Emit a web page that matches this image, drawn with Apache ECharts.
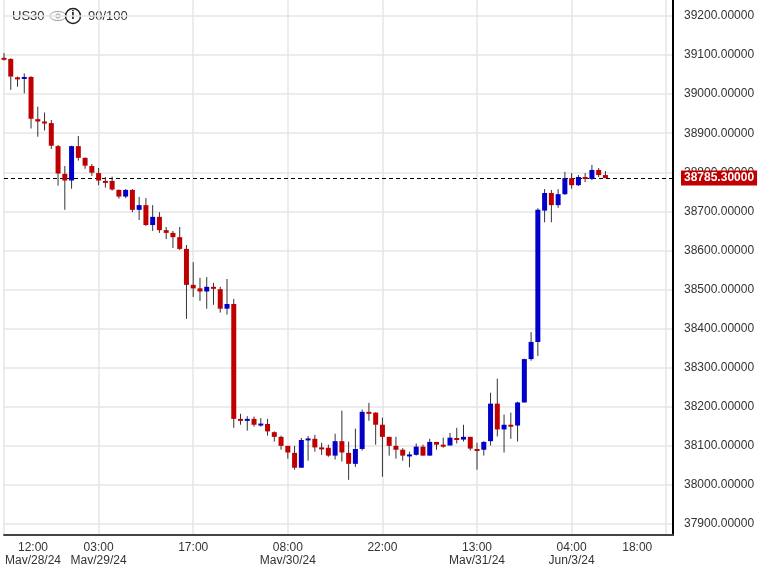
<!DOCTYPE html>
<html>
<head>
<meta charset="utf-8">
<title>US30</title>
<script src="https://cdn.jsdelivr.net/npm/echarts@6/dist/echarts.min.js"></script>
<style>
html, body { margin: 0; padding: 0; background: #fff; }
#chart { width: 764px; height: 564px; }
</style>
</head>
<body>
<div id="chart"></div>
<script>
// hourly candles, [open, close, low, high]
var opens  = [39093,39090,39043,39041,39044,38936,38930,38926,38867,38796,
              38779,38867,38837,38816,38798,38778,38778,38755,38738,38755,
              38704,38716,38665,38686,38652,38645,38634,38604,38512,38503,
              38495,38507,38501,38451,38463,38169,38164,38169,38154,38156,
              38135,38123,38100,38082,38044,38117,38118,38096,38095,38075,
              38112,38082,38054,38092,38187,38185,38154,38123,38100,38090,
              38076,38077,38098,38075,38110,38103,38101,38120,38116,38123,
              38092,38090,38112,38208,38142,38154,38152,38211,38322,38366,
              38702,38747,38716,38744,38785,38767,38788,38783,38806,38793];
var closes = [39091,39045,39041,39044,38937,38930,38928,38868,38797,38779,
              38867,38837,38817,38799,38779,38778,38756,38738,38755,38704,
              38716,38665,38686,38652,38645,38634,38604,38512,38503,38495,
              38507,38503,38451,38463,38169,38164,38169,38154,38157,38137,
              38123,38100,38083,38044,38115,38119,38096,38094,38075,38112,
              38083,38054,38092,38187,38185,38154,38123,38100,38090,38075,
              38078,38098,38075,38110,38103,38101,38121,38116,38123,38093,
              38091,38110,38208,38142,38154,38152,38211,38322,38366,38704,
              38747,38716,38744,38785,38767,38788,38783,38806,38793,38785.3];
var lows   = [39086,39011,39019,39002,38912,38891,38907,38860,38766,38704,
              38758,38830,38809,38791,38767,38761,38753,38733,38734,38698,
              38678,38663,38650,38645,38629,38606,38601,38425,38481,38471,
              38451,38461,38441,38436,38146,38154,38139,38149,38149,38126,
              38111,38090,38067,38039,38044,38062,38085,38077,38072,38065,
              38060,38013,38046,38088,38164,38103,38021,38075,38067,38062,
              38045,38075,38075,38075,38090,38095,38101,38106,38111,38088,
              38039,38075,38101,38124,38083,38118,38111,38211,38318,38330,
              38672,38672,38709,38742,38758,38765,38775,38780,38788,38785];
var highs  = [39105,39092,39045,39053,39046,38968,38953,38934,38870,38816,
              38868,38893,38838,38821,38811,38788,38789,38756,38757,38757,
              38737,38734,38716,38698,38660,38650,38660,38614,38570,38530,
              38532,38517,38507,38527,38476,38182,38176,38175,38171,38169,
              38137,38126,38100,38100,38120,38125,38128,38108,38103,38131,
              38190,38111,38144,38193,38210,38186,38172,38123,38123,38094,
              38085,38106,38103,38118,38110,38121,38133,38146,38154,38123,
              38108,38112,38236,38272,38180,38185,38213,38323,38391,38708,
              38757,38755,38757,38801,38798,38793,38798,38819,38811,38803];

var slotCount = 100;
var tickIdx  = [0, 14, 28, 42, 56, 70, 84, 98];
var tickText = ['12:00\nMay/28/24', '03:00\nMay/29/24', '17:00', '08:00\nMay/30/24',
                '22:00', '13:00\nMay/31/24', '04:00\nJun/3/24', '18:00'];
var lastPrice = 38785.3;
var symbolName = 'US30';
var scoreText = '90/100';

var cats = [];
for (var i = 0; i < slotCount; ++i) cats.push(String(i));

var candles = [];
for (var i = 0; i < opens.length; ++i)
	candles.push([i, opens[i], closes[i], lows[i], highs[i]]);

function renderCandle(params, api)
{
	var x = api.coord([api.value(0), 0])[0];
	var o = api.coord([0, api.value(1)])[1];
	var c = api.coord([0, api.value(2)])[1];
	var lo = api.coord([0, api.value(3)])[1];
	var hi = api.coord([0, api.value(4)])[1];
	var up = api.value(2) > api.value(1);
	var top = Math.min(o, c), h = Math.max(Math.abs(o - c), 2);
	return {
		type: 'group',
		children: [
			{ type: 'line', shape: { x1: x, y1: hi, x2: x, y2: lo },
			  style: { stroke: '#333', lineWidth: 1 } },
			{ type: 'rect', shape: { x: x - 2.5, y: top, width: 5, height: h },
			  style: { fill: up ? '#0000c8' : '#c00000' } }
		]
	};
}

var chart = echarts.init(document.getElementById('chart'));

var option = {
	animation: false,
	backgroundColor: '#fff',
	textStyle: { fontFamily: 'Liberation Sans, Arial, sans-serif' },
	grid: [
		{ left: 4, right: 91, top: 16, bottom: 40, outerBoundsMode: 'none', containLabel: false },
		{ left: 4, right: 91, top: 0, bottom: 29, outerBoundsMode: 'none', containLabel: false }
	],
	xAxis: [
		{ gridIndex: 0, type: 'category', data: cats, boundaryGap: false, show: false },
		{
			gridIndex: 1, type: 'category', data: cats, boundaryGap: false,
			axisLine: { lineStyle: { color: '#444', width: 2 } },
			axisTick: { show: false },
			axisLabel: {
				interval: 0, color: '#333', fontSize: 12, margin: 6, lineHeight: 13,
				hideOverlap: false,
				formatter: function (v, idx) {
					var k = tickIdx.indexOf(idx);
					if (k < 0) return '';
					if (idx === 98) return '{r|' + tickText[k] + '}';
					if (idx === 0) return '{l|' + tickText[k].split('\n').join('}\n{l|') + '}';
					return tickText[k];
				},
				rich: {
					r: { padding: [0, 58, 0, 0], fontSize: 12, color: '#333' },
					l: { padding: [0, 0, 0, 58], fontSize: 12, color: '#333' }
				}
			},
			splitLine: {
				show: true,
				interval: function (idx) { return tickIdx.indexOf(idx) >= 0; },
				lineStyle: { color: '#e6e6e6', width: 1.5 }
			}
		}
	],
	yAxis: [
		{
			gridIndex: 0, type: 'value', position: 'right',
			min: 37900, max: 39200, interval: 100,
			axisLine: { show: false }, axisTick: { show: false },
			axisLabel: { color: '#333', fontSize: 12, margin: 11,
				formatter: function (v) { return v.toFixed(5); } },
			splitLine: { lineStyle: { color: '#e6e6e6', width: 1.5 } }
		},
		{
			gridIndex: 1, type: 'value', position: 'right', min: 0, max: 1,
			axisLine: { show: true, lineStyle: { color: '#000', width: 2 } },
			axisTick: { show: false }, axisLabel: { show: false },
			splitLine: { show: false }
		}
	],
	series: [{
		type: 'custom',
		xAxisIndex: 0, yAxisIndex: 0,
		renderItem: renderCandle,
		encode: { x: 0, y: [1, 2, 3, 4] },
		data: candles,
		z: 5,
		markLine: {
			symbol: 'none', silent: true,
			lineStyle: { color: '#000', type: [4, 3], width: 1 },
			label: {
				position: 'end', distance: 8,
				formatter: lastPrice.toFixed(5),
				backgroundColor: '#c00000', color: '#fff', fontWeight: 'bold',
				fontSize: 12, padding: [2, 3, 1, 3]
			},
			data: [{ yAxis: lastPrice }]
		}
	}],
	graphic: [
		{ type: 'text', x: 12, y: 10,
		  style: { text: symbolName, font: '13px Liberation Sans', fill: '#333' } },
		{ type: 'ellipse', shape: { cx: 58, cy: 16, rx: 8, ry: 4.5 },
		  style: { fill: 'none', stroke: '#999', lineWidth: 1 } },
		{ type: 'circle', shape: { cx: 58, cy: 16, r: 2.2 },
		  style: { fill: 'none', stroke: '#999', lineWidth: 1 } },
		{ type: 'circle', shape: { cx: 73, cy: 16, r: 7.5 },
		  style: { fill: 'none', stroke: '#222', lineWidth: 1.5 } },
		{ type: 'text', x: 73, y: 16,
		  style: { text: 'i', font: 'bold 12px Liberation Sans', fill: '#222',
		           align: 'center', verticalAlign: 'middle' } },
		{ type: 'text', x: 88, y: 10,
		  style: { text: scoreText, font: '13px Liberation Sans', fill: '#333' } }
	]
};

chart.setOption(option);
</script>
</body>
</html>
